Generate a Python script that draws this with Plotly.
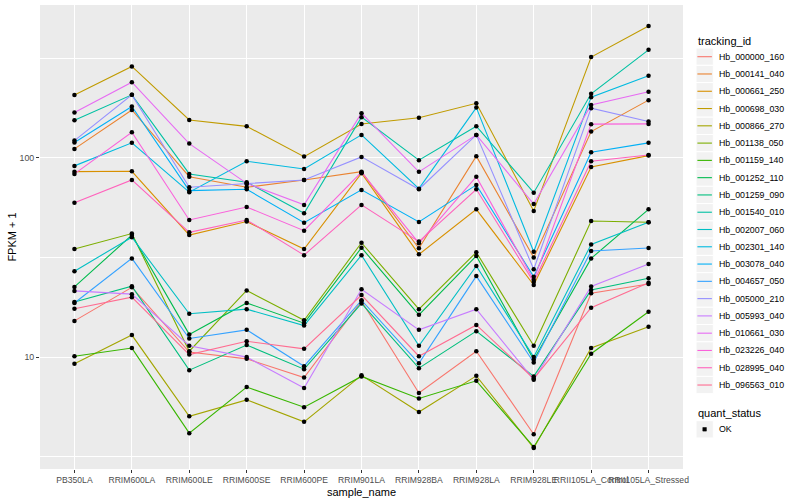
import math
import plotly.graph_objects as go

# ---------------- data ----------------
samples = ["PB350LA", "RRIM600LA", "RRIM600LE", "RRIM600SE", "RRIM600PE", "RRIM901LA",
           "RRIM928BA", "RRIM928LA", "RRIM928LE", "RRII105LA_Control", "RRII105LA_Stressed"]

tracking_ids = ["Hb_000000_160", "Hb_000141_040", "Hb_000661_250", "Hb_000698_030",
                "Hb_000866_270", "Hb_001138_050", "Hb_001159_140", "Hb_001252_110",
                "Hb_001259_090", "Hb_001540_010", "Hb_002007_060", "Hb_002301_140",
                "Hb_003078_040", "Hb_004657_050", "Hb_005000_210", "Hb_005993_040",
                "Hb_010661_030", "Hb_023226_040", "Hb_028995_040", "Hb_096563_010"]

colors = ["#F8766D", "#EA8331", "#D89000", "#C09B00", "#A3A500", "#7CAE00", "#39B600",
          "#00BB4E", "#00BF7D", "#00C1A3", "#00BFC4", "#00BAE0", "#00B0F6", "#35A2FF",
          "#9590FF", "#C77CFF", "#E76BF3", "#FA62DB", "#FF62BC", "#FF6C91"]

# FPKM + 1 per sample (order of `samples`)
hb_000000_160 = [15.2, 22.4, 10.6, 9.8, 7.9, 19.1, 6.6, 10.7, 4.1, 20.9, 23.3]
hb_000141_040 = [111, 174, 80.5, 71.2, 77.5, 85.3, 35.2, 102, 31.6, 135.6, 195]
hb_000661_250 = [85.3, 85.7, 41.0, 47.9, 34.9, 83.8, 32.8, 55.2, 23.0, 90.1, 102.7]
hb_000698_030 = [207, 288, 155, 144, 101.5, 148, 159, 188, 54.2, 321, 459]
hb_000866_270 = [9.25, 12.9, 5.04, 6.1, 4.73, 8.1, 5.3, 8.05, 3.5, 11.1, 14.2]
hb_001138_050 = [34.9, 41.7, 10.7, 21.6, 15.3, 37.5, 17.4, 33.6, 11.4, 48.2, 47.5]
hb_001159_140 = [10.1, 11.1, 4.15, 7.07, 5.6, 8.0, 6.2, 7.6, 3.54, 10.4, 16.9]
hb_001252_110 = [22.5, 41.0, 13.0, 18.7, 14.8, 35.4, 16.3, 32.2, 9.7, 31.3, 55.2]
hb_001259_090 = [18.9, 22.7, 8.6, 11.5, 8.7, 18.6, 8.8, 13.5, 8.0, 21.7, 24.9]
hb_001540_010 = [154.7, 207.3, 83.1, 75.5, 52.8, 160.2, 97.4, 144.3, 66.9, 209.8, 348.9]
hb_002007_060 = [27.0, 40.0, 16.5, 17.4, 14.4, 32.5, 11.4, 28.7, 10.0, 36.8, 47.5]
hb_002301_140 = [91.2, 119, 67.3, 96.2, 88.0, 130.5, 70.1, 178.9, 33.8, 201.8, 258.3]
hb_003078_040 = [119.4, 181.1, 68.5, 69.6, 47.3, 69.1, 47.7, 73.2, 25.3, 106.8, 119]
hb_004657_050 = [18.7, 31.3, 12.4, 13.7, 9.0, 19.3, 9.3, 25.5, 9.4, 34.1, 35.3]
hb_005000_210 = [122.2, 207.3, 71.2, 74.0, 77.5, 101.2, 69.6, 130.5, 27.6, 177.7, 152.2]
hb_005993_040 = [21.5, 20.7, 11.4, 10.0, 7.0, 21.9, 13.7, 17.4, 7.7, 22.6, 29.3]
hb_010661_030 = [168.9, 240.1, 118, 74.5, 58.1, 167.7, 85.1, 130.5, 58.7, 184.6, 214.7]
hb_023226_040 = [83.1, 134.6, 48.8, 56.7, 43.1, 84.8, 37.3, 80.5, 24.4, 147.7, 148.2]
hb_028995_040 = [59.6, 77.5, 42.3, 48.8, 32.5, 58.1, 38.0, 69.6, 23.8, 96.2, 103.5]
hb_096563_010 = [17.5, 20.0, 10.3, 12.0, 11.0, 20.5, 10.1, 14.5, 7.8, 17.7, 23.6]

series = [hb_000000_160, hb_000141_040, hb_000661_250, hb_000698_030, hb_000866_270,
          hb_001138_050, hb_001159_140, hb_001252_110, hb_001259_090, hb_001540_010,
          hb_002007_060, hb_002301_140, hb_003078_040, hb_004657_050, hb_005000_210,
          hb_005993_040, hb_010661_030, hb_023226_040, hb_028995_040, hb_096563_010]

y_ticks = [10, 100]
y_minor = [10 ** 0.5, 10 ** 1.5, 10 ** 2.5]

# ---------------- layout constants ----------------
W, H = 800, 500
ML, MR, MT, MB = 40, 117, 5, 31
FONT = "Liberation Sans, Arial, Helvetica, sans-serif"
PW, PH = W - ML - MR, H - MT - MB


def px(x):
    return (x - ML) / PW


def py(y):
    return (H - MB - y) / PH


fig = go.Figure()

for name, col, vals in zip(tracking_ids, colors, series):
    fig.add_trace(go.Scatter(x=samples, y=vals, mode="lines", name=name,
                             line=dict(color=col, width=1.1), showlegend=False))
for name, vals in zip(tracking_ids, series):
    fig.add_trace(go.Scatter(x=samples, y=vals, mode="markers", name=name,
                             marker=dict(color="black", size=4.5, symbol="circle"),
                             showlegend=False))

allv = [v for s in series for v in s]
lo, hi = math.log10(min(allv)), math.log10(max(allv))
span = hi - lo

# ---------------- manual ggplot-like legend ----------------
shapes, annots = [], []
kx0, kx1, tx = 696, 713.3, 716.5
ks = 17.28
annots.append(dict(x=px(kx0), y=py(40.7), xref="paper", yref="paper", text="tracking_id",
                   showarrow=False, xanchor="left", yanchor="middle",
                   font=dict(family=FONT, size=11, color="black")))
for i, (name, col) in enumerate(zip(tracking_ids, colors)):
    cy = 56.7 + ks * i
    shapes.append(dict(type="rect", xref="paper", yref="paper", x0=px(kx0), x1=px(kx1),
                       y0=py(cy - ks / 2), y1=py(cy + ks / 2), fillcolor="#F2F2F2",
                       line=dict(color="white", width=1), layer="above"))
    shapes.append(dict(type="line", xref="paper", yref="paper", x0=px(kx0 + 1.4), x1=px(kx1 - 1.4),
                       y0=py(cy), y1=py(cy), line=dict(color=col, width=1.1), layer="above"))
    annots.append(dict(x=px(tx), y=py(cy), xref="paper", yref="paper", text=name,
                       showarrow=False, xanchor="left", yanchor="middle",
                       font=dict(family=FONT, size=8.8, color="black")))

annots.append(dict(x=px(kx0), y=py(413.3), xref="paper", yref="paper", text="quant_status",
                   showarrow=False, xanchor="left", yanchor="middle",
                   font=dict(family=FONT, size=11, color="black")))
cy = 429.3
shapes.append(dict(type="rect", xref="paper", yref="paper", x0=px(kx0), x1=px(kx1),
                   y0=py(cy - ks / 2), y1=py(cy + ks / 2), fillcolor="#F2F2F2",
                   line=dict(color="white", width=1), layer="above"))
shapes.append(dict(type="rect", xref="paper", yref="paper", x0=px(702.8), x1=px(706.4),
                   y0=py(cy - 1.8), y1=py(cy + 1.8), fillcolor="black",
                   line=dict(color="black", width=0.5), layer="above"))
annots.append(dict(x=px(tx), y=py(cy), xref="paper", yref="paper", text="OK",
                   showarrow=False, xanchor="left", yanchor="middle",
                   font=dict(family=FONT, size=8.8, color="black")))

# x-axis title placed explicitly (ggplot puts it close to the tick labels)
annots.append(dict(x=0.5, y=py(492), xref="paper", yref="paper", text="sample_name",
                   showarrow=False, xanchor="center", yanchor="middle",
                   font=dict(family=FONT, size=11, color="black")))

fig.update_layout(
    width=W, height=H,
    margin=dict(l=ML, r=MR, t=MT, b=MB, autoexpand=False),
    paper_bgcolor="white", plot_bgcolor="#EBEBEB",
    font=dict(family=FONT, size=11, color="black"),
    showlegend=False,
    shapes=shapes, annotations=annots,
    xaxis=dict(type="category", categoryorder="array", categoryarray=samples,
               range=[-0.6, len(samples) - 0.4], showgrid=True, gridcolor="white",
               gridwidth=1.2, zeroline=False, showline=False,
               ticks="outside", ticklen=3, tickwidth=1, tickcolor="#333333",
               tickangle=0, tickfont=dict(family=FONT, size=8.6, color="#4D4D4D"),
               automargin=False, fixedrange=True),
    yaxis=dict(type="log", range=[lo - 0.05 * span, hi + 0.05 * span],
               tickmode="array", tickvals=y_ticks, ticktext=[str(v) for v in y_ticks],
               showgrid=True, gridcolor="white", gridwidth=1.2, zeroline=False,
               showline=False, ticks="outside", ticklen=3, tickwidth=1, tickcolor="#333333",
               tickfont=dict(family=FONT, size=8.8, color="#4D4D4D"),
               minor=dict(tickmode="array", tickvals=y_minor, showgrid=True,
                          gridcolor="white", gridwidth=0.6, ticks=""),
               title=dict(text="FPKM + 1", standoff=0,
                          font=dict(family=FONT, size=11, color="black")),
               automargin=False, fixedrange=True),
)

# remove the browser's default 8px body margin so the 800x500 figure fills the window
fig.write_html("out.html", config={"displayModeBar": False},
               post_script="document.body.style.margin='0';document.body.style.overflow='hidden';")
